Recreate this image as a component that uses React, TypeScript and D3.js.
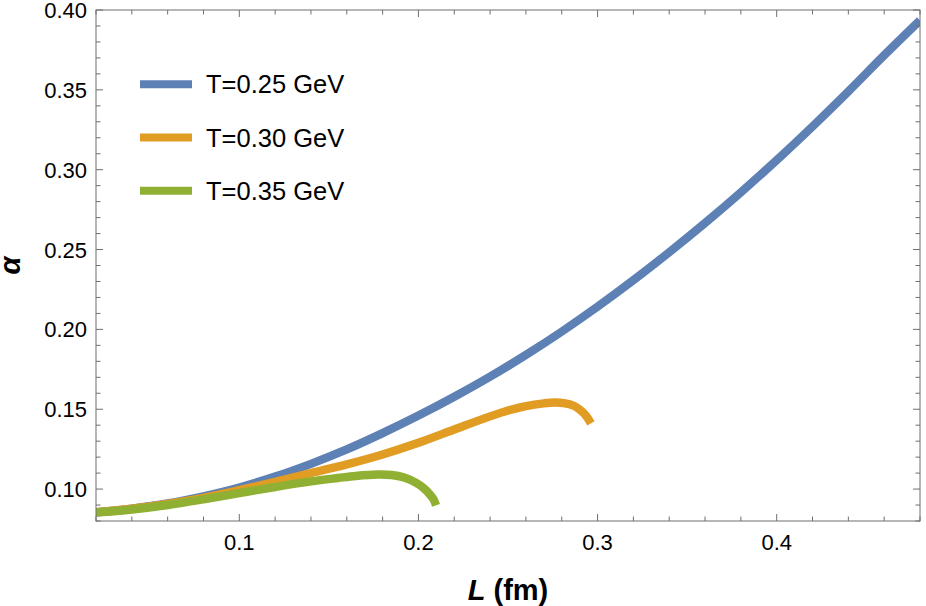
import React from "react";
import * as d3 from "d3";

// ---- data ----
const seriesNames = ["T=0.25 GeV", "T=0.30 GeV", "T=0.35 GeV"];
const seriesColors = ["#5E81B5", "#E19C24", "#8FB032"];

const blueL = [0.02, 0.04, 0.06, 0.08, 0.10, 0.12, 0.14, 0.16, 0.18, 0.20, 0.22, 0.24, 0.26, 0.28, 0.30, 0.32, 0.34, 0.36, 0.38, 0.40, 0.42, 0.44, 0.46, 0.48];
const blueA = [0.0855, 0.0878, 0.0910, 0.0955, 0.1010, 0.1078, 0.1158, 0.1248, 0.1350, 0.1460, 0.1578, 0.1704, 0.1840, 0.1986, 0.2142, 0.2308, 0.2483, 0.2666, 0.2858, 0.3060, 0.3271, 0.3490, 0.3716, 0.3935];

const orangeL = [0.02, 0.04, 0.06, 0.08, 0.10, 0.12, 0.14, 0.16, 0.18, 0.20, 0.22, 0.24, 0.25, 0.26, 0.270, 0.276, 0.282, 0.287, 0.2905, 0.2935, 0.2963];
const orangeA = [0.0855, 0.0877, 0.0907, 0.0945, 0.0993, 0.1045, 0.1100, 0.1155, 0.1217, 0.1290, 0.1373, 0.1455, 0.1492, 0.1520, 0.1537, 0.1542, 0.1536, 0.1520, 0.1494, 0.1460, 0.1411];

const greenL = [0.02, 0.04, 0.06, 0.08, 0.10, 0.12, 0.14, 0.155, 0.165, 0.177, 0.185, 0.192, 0.1985, 0.203, 0.2065, 0.2085, 0.2098];
const greenA = [0.0853, 0.0872, 0.0900, 0.0936, 0.0975, 0.1013, 0.1048, 0.1069, 0.1082, 0.1091, 0.1088, 0.1072, 0.1040, 0.1005, 0.0965, 0.0935, 0.0898];

const xMajorTicks = [0.1, 0.2, 0.3, 0.4];
const yMajorTicks = [0.10, 0.15, 0.20, 0.25, 0.30, 0.35, 0.40];

const W = 926;
const H = 606;
const left = 96;
const right = 920;
const top = 10;
const bottom = 521;

export default function App() {
  const x = d3.scaleLinear().domain([0.02, 0.48]).range([left, right]);
  const y = d3.scaleLinear().domain([0.08, 0.40]).range([bottom, top]);

  const series = [
    blueL.map((l, i) => [l, blueA[i]] as [number, number]),
    orangeL.map((l, i) => [l, orangeA[i]] as [number, number]),
    greenL.map((l, i) => [l, greenA[i]] as [number, number]),
  ];

  const line = d3
    .line<[number, number]>()
    .x((d) => x(d[0]))
    .y((d) => y(d[1]))
    .curve(d3.curveCatmullRom.alpha(0.5));

  const xMinor = d3.range(0, 25).map((i) => +(0.02 + i * 0.02).toFixed(3)).filter((v) => v <= 0.48 + 1e-9);
  const yMinor = d3.range(0, 33).map((i) => +(0.08 + i * 0.01).toFixed(3)).filter((v) => v <= 0.40 + 1e-9);
  const isXMajor = (v: number) => xMajorTicks.some((m) => Math.abs(m - v) < 1e-6);
  const isYMajor = (v: number) => yMajorTicks.some((m) => Math.abs(m - v) < 1e-6);

  const frameColor = "#6e6e6e";
  const majorLen = 7;
  const minorLen = 4.5;
  const font = "'Liberation Sans', Arial, Helvetica, sans-serif";

  return (
    <svg
      width={W}
      height={H}
      style={{ position: "absolute", left: 0, top: 0, background: "#fff" }}
      fontFamily={font}
    >
      <defs>
        <clipPath id="plotClip">
          <rect x={left} y={top} width={right - left} height={bottom - top} />
        </clipPath>
      </defs>

      {/* curves */}
      <g clipPath="url(#plotClip)">
        {series.map((s, i) => (
          <path
            key={i}
            d={line(s) || ""}
            fill="none"
            stroke={seriesColors[i]}
            strokeWidth={8.4}
            strokeLinecap="butt"
            strokeLinejoin="round"
          />
        ))}
      </g>

      {/* frame */}
      <rect x={left} y={top} width={right - left} height={bottom - top} fill="none" stroke={frameColor} strokeWidth={1} />

      {/* x ticks bottom & top */}
      {xMinor.map((v, i) => {
        const len = isXMajor(v) ? majorLen : minorLen;
        const px = x(v);
        return (
          <g key={"xt" + i} stroke={frameColor} strokeWidth={1}>
            <line x1={px} x2={px} y1={bottom} y2={bottom - len} />
            <line x1={px} x2={px} y1={top} y2={top + len} />
          </g>
        );
      })}
      {/* y ticks left & right */}
      {yMinor.map((v, i) => {
        const len = isYMajor(v) ? majorLen : minorLen;
        const py = y(v);
        return (
          <g key={"yt" + i} stroke={frameColor} strokeWidth={1}>
            <line x1={left} x2={left + len} y1={py} y2={py} />
            <line x1={right} x2={right - len} y1={py} y2={py} />
          </g>
        );
      })}

      {/* tick labels */}
      {xMajorTicks.map((v) => (
        <text key={"xl" + v} x={x(v)} y={549.5} textAnchor="middle" fontSize={22} fill="#000">
          {v.toFixed(1)}
        </text>
      ))}
      {yMajorTicks.map((v) => (
        <text key={"yl" + v} x={87} y={y(v) + 8} textAnchor="end" fontSize={22} fill="#000">
          {v.toFixed(2)}
        </text>
      ))}

      {/* axis titles */}
      <text x={(left + right) / 2} y={600} textAnchor="middle" fontSize={29} fontWeight="bold" fill="#000">
        <tspan fontStyle="italic">L</tspan>
        <tspan> (fm)</tspan>
      </text>
      <text
        transform={`translate(20, ${(top + bottom) / 2}) rotate(-90)`}
        textAnchor="middle"
        fontSize={29}
        fontWeight="bold"
        fontStyle="italic"
        fill="#000"
      >
        α
      </text>

      {/* legend */}
      {seriesNames.map((name, i) => {
        const ly = 84.3 + i * 53.2;
        return (
          <g key={"lg" + i}>
            <line x1={140} x2={192} y1={ly} y2={ly} stroke={seriesColors[i]} strokeWidth={8} />
            <text x={206} y={ly + 9} fontSize={25.5} fill="#000">
              {name}
            </text>
          </g>
        );
      })}
    </svg>
  );
}
